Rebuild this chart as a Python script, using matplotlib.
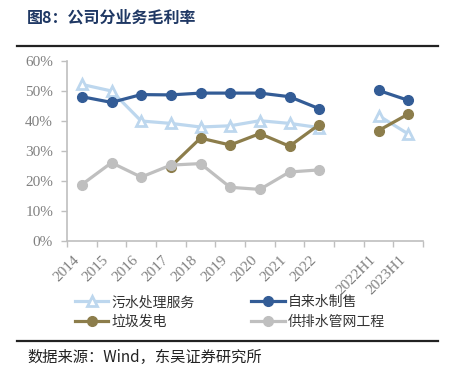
import numpy as np
import matplotlib
matplotlib.use("Agg")
import matplotlib.pyplot as plt
from matplotlib.lines import Line2D

plt.rcParams['font.family'] = ['Liberation Serif', 'Noto Sans CJK SC', 'DejaVu Sans']

# categories (empty slot between 2022 and 2022H1)
cats = ['2014', '2015', '2016', '2017', '2018', '2019', '2020', '2021', '2022',
        '', '2022H1', '2023H1']

# gross margin by segment, % (None = no data)
sewage = [52.2, 50.0, 40.0, 39.2, 38.0, 38.4, 40.1, 39.2, 37.8, None, 41.8, 35.7]
tap_water = [48.1, 46.2, 48.8, 48.7, 49.3, 49.3, 49.3, 48.1, 44.1, None, 50.2, 46.9]
waste_power = [None, None, None, 24.8, 34.3, 32.0, 35.8, 31.6, 38.8, None, 36.8, 42.3]
pipe_network = [18.8, 26.1, 21.3, 25.3, 25.8, 17.9, 17.2, 23.0, 23.7, None, None, None]

names = ['污水处理服务', '自来水制售', '垃圾发电', '供排水管网工程']
colors = ['#BDD7EE', '#335C96', '#8C7D4B', '#BFBFBF']
markers = ['^', 'o', 'o', 'o']

fig = plt.figure(figsize=(4.52, 3.74), dpi=100)
ax = fig.add_axes([67 / 452, 1 - 241 / 374, (423 - 67) / 452, 180 / 374])

x = np.arange(len(cats)) + 0.5
series = [sewage, tap_water, waste_power, pipe_network]
handles = []
for vals, c, m, n in zip(series, colors, markers, names):
    y = np.array([np.nan if v is None else v for v in vals], dtype=float)
    if m == '^':
        h, = ax.plot(x, y, color=c, lw=2.3, marker=m, ms=7, mfc='white', mec=c, mew=2, label=n)
    else:
        h, = ax.plot(x, y, color=c, lw=2.3, marker=m, ms=7, mfc=c, mec=c, label=n)
    handles.append(h)

ax.set_xlim(0, len(cats))
ax.set_ylim(0, 60)
ax.set_yticks(np.arange(0, 61, 10))
ax.set_yticklabels([f'{v}%' for v in range(0, 61, 10)], fontsize=11, color='#808080',
                   family='Liberation Serif')
ax.set_xticks(np.arange(len(cats) + 1))
ax.set_xticklabels([])
ax.set_xticks(x, minor=True)
ax.set_xticklabels(cats, minor=True, rotation=45, ha='right', va='top',
                   fontsize=11, color='#808080', family='Liberation Serif')
ax.tick_params(axis='x', which='minor', length=0, pad=9)
ax.tick_params(axis='x', which='major', length=4, color='#BFBFBF', width=1)
ax.tick_params(axis='y', length=4, color='#BFBFBF', width=1, pad=6)
for s in ['top', 'right']:
    ax.spines[s].set_visible(False)
for s in ['left', 'bottom']:
    ax.spines[s].set_color('#BFBFBF')
    ax.spines[s].set_linewidth(1.2)

# legend filled row by row: (污水, 自来水) then (垃圾, 供排水)
order = [0, 2, 1, 3]
fig.legend([handles[i] for i in order], [names[i] for i in order], ncol=2,
           loc='center left', bbox_to_anchor=(75 / 452, 1 - 312 / 374), borderpad=0,
           borderaxespad=0, frameon=False, handlelength=2.4, columnspacing=4.1,
           handletextpad=0.2, labelspacing=0.4,
           prop={'family': ['Noto Sans CJK SC'], 'size': 10}, labelcolor='#333333')

# title, rules and source note
fig.text(27 / 452, 1 - 18 / 374, '图8：公司分业务毛利率', fontsize=11.5, fontweight='bold',
         color='#1F3864', family=['Noto Sans CJK SC'], va='center')
fig.add_artist(Line2D([17 / 452, 438 / 452], [1 - 46 / 374, 1 - 46 / 374], color='#222222', lw=1.6))
fig.add_artist(Line2D([17 / 452, 438 / 452], [1 - 341 / 374, 1 - 341 / 374], color='#222222', lw=1.6))
fig.text(27 / 452, 1 - 357 / 374, '数据来源：Wind，东吴证券研究所', fontsize=11,
         color='#222222', family=['Noto Sans CJK SC'], va='center')

fig.savefig('out.png', dpi=100)
